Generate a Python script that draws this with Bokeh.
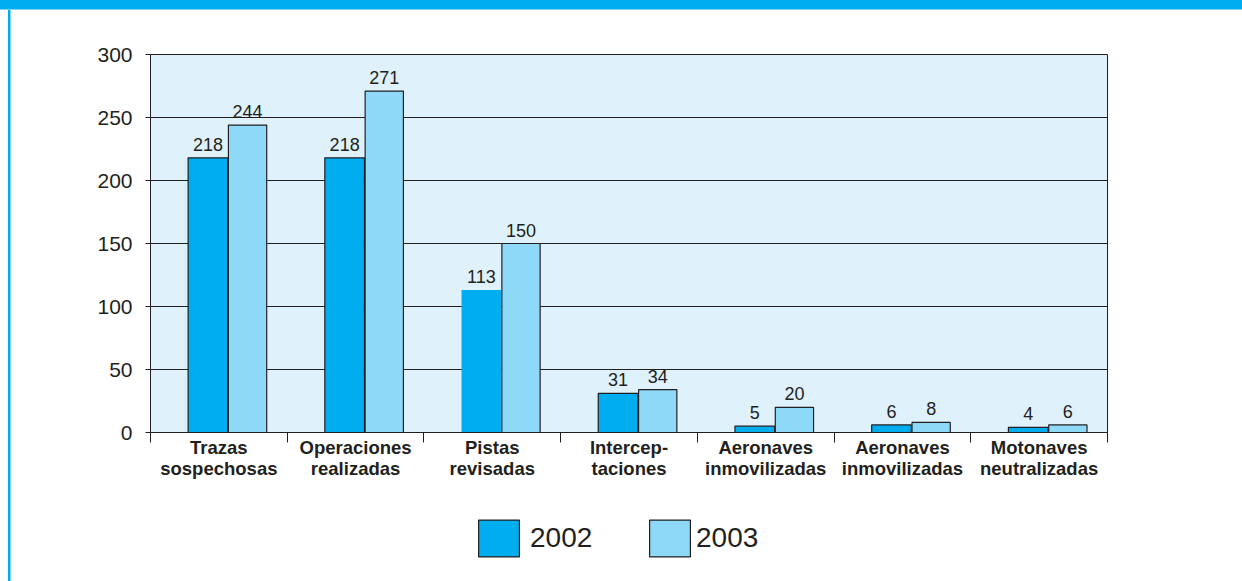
from bokeh.plotting import figure
from bokeh.models import (Range1d, FixedTicker, Legend, LegendItem, Div,
                          ColumnDataSource, LinearAxis)
from bokeh.layouts import column, row
from bokeh.core.properties import value
from bokeh.embed import file_html
from bokeh.resources import INLINE
import numpy as np

categories_line1 = ["Trazas", "Operaciones", "Pistas", "Intercep-", "Aeronaves",
                    "Aeronaves", "Motonaves"]
categories_line2 = ["sospechosas", "realizadas", "revisadas", "taciones",
                    "inmovilizadas", "inmovilizadas", "neutralizadas"]
values_2002 = [218, 218, 113, 31, 5, 6, 4]
values_2003 = [244, 271, 150, 34, 20, 8, 6]
y_ticks = [0, 50, 100, 150, 200, 250, 300]
series_names = ["2002", "2003"]

# styling
C02 = "#00AEEF"
C03 = "#8ED8F8"
BG = "#DFF1FB"
INK = "#231F20"
FONT = "Liberation Sans"
outline_alpha_2002 = [1, 1, 0, 1, 1, 1, 1]

n = len(categories_line1)
idx = np.arange(n)
x02 = idx + 0.42
x03 = idx + 0.71

src02 = ColumnDataSource(dict(x=x02, top=values_2002, la=outline_alpha_2002,
                              lbl=[str(v) for v in values_2002]))
src03 = ColumnDataSource(dict(x=x03, top=values_2003,
                              lbl=[str(v) for v in values_2003]))

W = 1231
H1 = 490
H2 = 81
p = figure(width=W, height=H1, output_backend="svg", toolbar_location=None,
           x_range=Range1d(0, n), y_range=Range1d(0, 300),
           min_border_left=139, min_border_right=135, min_border_top=44,
           min_border_bottom=68)
p.background_fill_color = BG
p.border_fill_color = "white"
p.outline_line_color = INK
p.outline_line_width = 1

r02 = p.vbar(x="x", top="top", width=0.29, source=src02, fill_color=C02,
             line_color=INK, line_width=1.2, line_alpha="la")
r03 = p.vbar(x="x", top="top", width=0.28, source=src03, fill_color=C03,
             line_color=INK, line_width=1.2)

for s in (src02, src03):
    p.text(x="x", y="top", text="lbl", source=s, text_align="center",
           text_baseline="bottom", y_offset=-7, text_font=value(FONT),
           text_font_size="18px", text_color=INK)

# y axis
p.yaxis.ticker = FixedTicker(ticks=y_ticks)
p.yaxis.major_tick_out = 5
p.yaxis.major_tick_in = 0
p.yaxis.minor_tick_line_color = None
p.yaxis.major_label_text_font = FONT
p.yaxis.major_label_text_font_size = "21px"
p.yaxis.major_label_text_color = INK
p.yaxis.major_label_standoff = 13
p.yaxis.axis_line_color = INK
p.yaxis.major_tick_line_color = INK

# x axis: labels at category centers, ticks at boundaries (minor ticks)
centers = [i + 0.5 for i in range(n)]
ax1 = p.xaxis[0]
ax1.ticker = FixedTicker(ticks=centers, minor_ticks=list(range(n + 1)))
ax1.major_label_overrides = {c: lab for c, lab in zip(centers, categories_line1)}
ax1.major_tick_out = 0
ax1.major_tick_in = 0
ax1.minor_tick_out = 10
ax1.minor_tick_in = 0
ax1.minor_tick_line_color = INK
ax1.axis_line_color = INK
ax1.major_label_standoff = -6

ax2 = LinearAxis(ticker=FixedTicker(ticks=centers, minor_ticks=[]),
                 major_label_overrides={c: lab for c, lab in zip(centers, categories_line2)},
                 major_tick_out=0, major_tick_in=0, minor_tick_out=0, minor_tick_in=0,
                 axis_line_color=None, major_tick_line_color=None,
                 minor_tick_line_color=None, major_label_standoff=-3)
p.add_layout(ax2, "below")

for ax in (ax1, ax2):
    ax.major_label_text_font = FONT
    ax.major_label_text_font_style = "bold"
    ax.major_label_text_font_size = "18.5px"
    ax.major_label_text_color = INK

p.xgrid.grid_line_color = None
p.ygrid.ticker = FixedTicker(ticks=y_ticks)
p.ygrid.grid_line_color = INK
p.ygrid.grid_line_width = 1

# legend in its own strip below the chart (its frame aligns with the chart frame)
p2 = figure(width=W, height=H2, output_backend="svg", toolbar_location=None,
            x_range=Range1d(0, 1), y_range=Range1d(0, 1),
            min_border_left=0, min_border_right=0, min_border_top=0,
            min_border_bottom=0)
p2.axis.visible = False
p2.grid.visible = False
p2.outline_line_color = None
p2.background_fill_color = "white"
p2.border_fill_color = "white"
d02 = p2.vbar(x="x", top="top", width=0.1, source=src02, fill_color=C02,
              line_color=INK, line_width=1.2, visible=False)
d03 = p2.vbar(x="x", top="top", width=0.1, source=src03, fill_color=C03,
              line_color=INK, line_width=1.2, visible=False)

legend_style = dict(orientation="horizontal", glyph_width=51, glyph_height=46,
                    label_text_font=FONT, label_text_font_size="28px",
                    label_text_color=INK, padding=0, margin=0,
                    border_line_color=None, background_fill_alpha=0)
leg_a = Legend(items=[LegendItem(label=series_names[0], renderers=[d02])],
               location=(323, 20), label_standoff=6, **legend_style)
leg_b = Legend(items=[LegendItem(label=series_names[1], renderers=[d03])],
               location=(494, 20), label_standoff=1, **legend_style)
p2.add_layout(leg_a, "center")
p2.add_layout(leg_b, "center")

top_band = Div(text="", width=1242, height=10, margin=0,
               styles={"background-color": C02,
                       "border-bottom": "1px solid #7FD3F5",
                       "box-sizing": "border-box"})
left_pad = Div(text="", width=8, height=H1 + H2, margin=0,
               styles={"background-color": "white"})
left_band = Div(text="", width=3, height=H1 + H2, margin=0,
                styles={"background-color": C02,
                        "border-right": "1px solid #7FD3F5",
                        "box-sizing": "border-box"})
layout = column(top_band,
                row(left_pad, left_band, column(p, p2, spacing=0), spacing=0),
                spacing=0)

open("out.html", "w").write(file_html(layout, INLINE))
